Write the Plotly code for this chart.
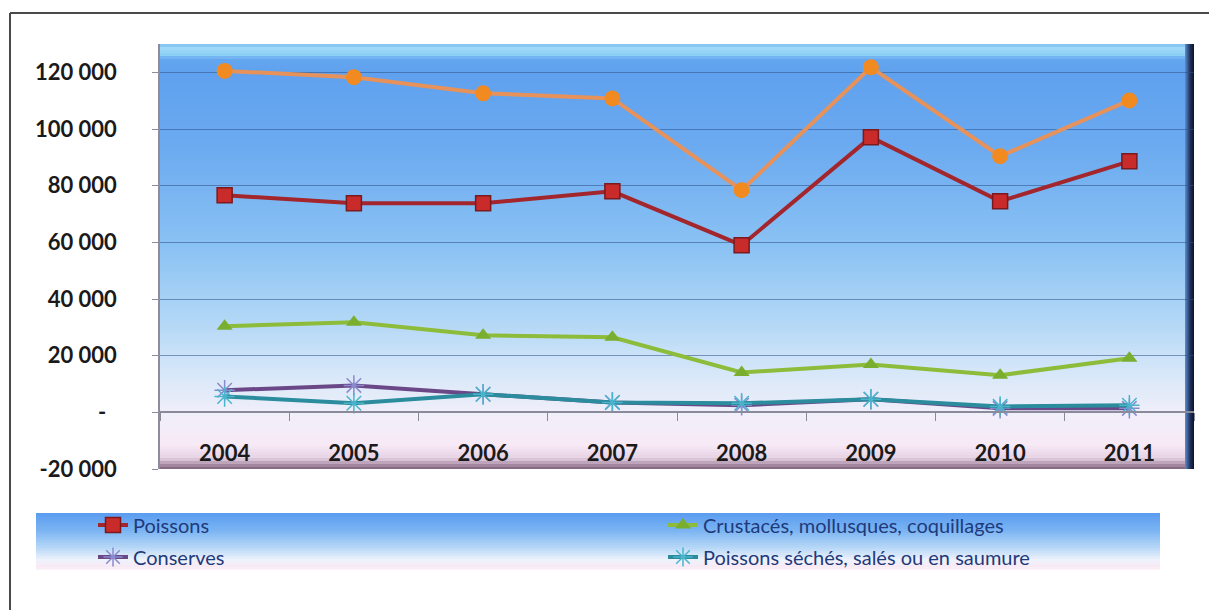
import plotly.graph_objects as go

# --- data -------------------------------------------------------------
years = ["2004", "2005", "2006", "2007", "2008", "2009", "2010", "2011"]
total = [120500, 118300, 112600, 110800, 78400, 121800, 90400, 110100]
poissons = [76600, 73800, 73800, 78000, 59000, 97100, 74500, 88600]
crustaces = [30400, 31800, 27200, 26500, 14100, 16900, 13100, 19100]
conserves = [7800, 9500, 6400, 3500, 2500, 4600, 1400, 1400]
seches = [5600, 3200, 6400, 3500, 3200, 4600, 2100, 2500]

y_tickvals = [-20000, 0, 20000, 40000, 60000, 80000, 100000, 120000]
y_ticktext = ["-20 000", "-\u00a0\u00a0", "20 000", "40 000", "60 000",
              "80 000", "100 000", "120 000"]

# --- page geometry (pixels) -------------------------------------------
W, H = 1209, 610
ML, MR, MT, MB = 160, 15, 44, 141
PW, PH = W - ML - MR, H - MT - MB


def px(x):
    return (x - ML) / PW


def py(y):
    return (H - MB - y) / PH


def hex2rgb(h):
    h = h.lstrip("#")
    return tuple(int(h[i:i + 2], 16) for i in (0, 2, 4))


def lerp_color(stops, t):
    for (p0, c0), (p1, c1) in zip(stops, stops[1:]):
        if p0 <= t <= p1:
            f = 0 if p1 == p0 else (t - p0) / (p1 - p0)
            a, b = hex2rgb(c0), hex2rgb(c1)
            return "rgb(%d,%d,%d)" % tuple(round(a[i] + (b[i] - a[i]) * f) for i in range(3))
    return stops[-1][1]


shapes = []


def vgradient(x0, x1, y0, y1, stops, step=3):
    y = y0
    while y < y1:
        yn = min(y + step, y1)
        shapes.append(dict(type="rect", xref="paper", yref="paper", layer="below",
                           x0=px(x0), x1=px(x1), y0=py(yn), y1=py(y),
                           fillcolor=lerp_color(stops, (y + yn) / 2),
                           line=dict(width=0)))
        y = yn


def hgradient(x0, x1, y0, y1, stops, step=1):
    x = x0
    while x < x1:
        xn = min(x + step, x1)
        shapes.append(dict(type="rect", xref="paper", yref="paper", layer="below",
                           x0=px(x), x1=px(xn), y0=py(y1), y1=py(y0),
                           fillcolor=lerp_color(stops, (x + xn) / 2),
                           line=dict(width=0)))
        x = xn


# plot area: blue sky fading to a pale pink floor
plot_stops = [(44, "#6fb0ee"), (47, "#a2dcf8"), (55, "#8ccff6"), (59, "#64a5ef"),
              (75, "#60a1ef"), (150, "#6cabf0"), (250, "#8cc3f4"), (320, "#b2d7f6"),
              (380, "#dbe9f9"), (415, "#f1effa"), (445, "#f7e9f5"), (458, "#e6d2e4"),
              (465, "#a88ca6"), (469, "#7a6078")]
vgradient(ML, W - MR, MT, H - MB, plot_stops)

# dark bevel on the right edge of the plot area
hgradient(1185, 1194, MT, H - MB, [(1185, "#5a8ed0"), (1190, "#22325e"), (1194, "#0a1228")])

# legend box gradient
legend_stops = [(513, "#5a9cf0"), (530, "#79b3f2"), (548, "#b8d8f7"), (560, "#eef2fb"),
                (566, "#f8eaf5"), (570, "#fbf3f8")]
vgradient(36, 1160, 513, 570, legend_stops, step=2)

# outer chart frame (left and top edges)
frame = dict(color="#4a4a4a", width=2)
shapes.append(dict(type="line", xref="paper", yref="paper", x0=px(10), x1=px(10),
                   y0=py(13), y1=py(H), line=frame))
shapes.append(dict(type="line", xref="paper", yref="paper", x0=px(10), x1=px(W),
                   y0=py(13), y1=py(13), line=frame))

# --- traces -----------------------------------------------------------
fig = go.Figure()

fig.add_trace(go.Scatter(
    x=years, y=total, mode="lines+markers", name="Total", showlegend=False,
    line=dict(color="#e6925a", width=4),
    marker=dict(symbol="circle", size=16, color="#f28a22", line=dict(color="#f28a22", width=0))))

fig.add_trace(go.Scatter(
    x=years, y=poissons, mode="lines+markers", name="Poissons",
    legend="legend", legendwidth=525,
    line=dict(color="#a3262c", width=4),
    marker=dict(symbol="square", size=15, color="#c92a2a", line=dict(color="#7a1a1e", width=1.5))))

fig.add_trace(go.Scatter(
    x=years, y=crustaces, mode="lines+markers", name="Crustacés, mollusques, coquillages",
    legend="legend", legendwidth=400,
    line=dict(color="#8cbc3a", width=4),
    marker=dict(symbol="triangle-up", size=14, color="#7aae2e", line=dict(width=0))))

fig.add_trace(go.Scatter(
    x=years, y=conserves, mode="lines+markers", name="Conserves",
    legend="legend2", legendwidth=525,
    line=dict(color="#6a4888", width=4),
    marker=dict(symbol="asterisk-open", size=17, color="#8a8ad0", line=dict(color="#8a8ad0", width=1.5))))

fig.add_trace(go.Scatter(
    x=years, y=seches, mode="lines+markers", name="Poissons séchés, salés ou en saumure",
    legend="legend2", legendwidth=400,
    line=dict(color="#2a8c9c", width=4),
    marker=dict(symbol="asterisk-open", size=17, color="#4ab4cc", line=dict(color="#4ab4cc", width=1.5))))

# --- layout -----------------------------------------------------------
tick_font = dict(family="Lato", size=22, color="#1a1a1a", weight="bold")
legend_font = dict(family="Lato", size=20, color="#1f3a7a")

fig.update_layout(
    width=W, height=H,
    margin=dict(l=ML, r=MR, t=MT, b=MB, autoexpand=False),
    paper_bgcolor="#ffffff",
    plot_bgcolor="rgba(0,0,0,0)",
    shapes=shapes,
    xaxis=dict(
        type="category", range=[-0.5, 7.5], anchor="free",
        position=20000 / 150000,
        showgrid=False, zeroline=False,
        showline=True, linecolor="#8a8a9a", linewidth=1.5,
        ticks="outside", tickson="boundaries", ticklen=8, tickcolor="#8a8a9a",
        ticklabelstandoff=22, tickfont=tick_font,
    ),
    yaxis=dict(
        range=[-20000, 130000], domain=[0, 1],
        tickvals=y_tickvals, ticktext=y_ticktext,
        showgrid=True, gridcolor="rgba(45,80,135,0.55)", gridwidth=1,
        zeroline=False,
        showline=True, linecolor="#8c8c9c", linewidth=1.5,
        ticks="outside", ticklen=6, tickcolor="#8c8c9c",
        ticklabelstandoff=31, tickfont=tick_font,
    ),
    legend=dict(
        orientation="h", x=px(93), y=py(525), xanchor="left", yanchor="middle",
        bgcolor="rgba(0,0,0,0)", borderwidth=0, font=legend_font,
    ),
    legend2=dict(
        orientation="h", x=px(93), y=py(557), xanchor="left", yanchor="middle",
        bgcolor="rgba(0,0,0,0)", borderwidth=0, font=legend_font,
    ),
    showlegend=True,
)

fig.write_html("out.html")
